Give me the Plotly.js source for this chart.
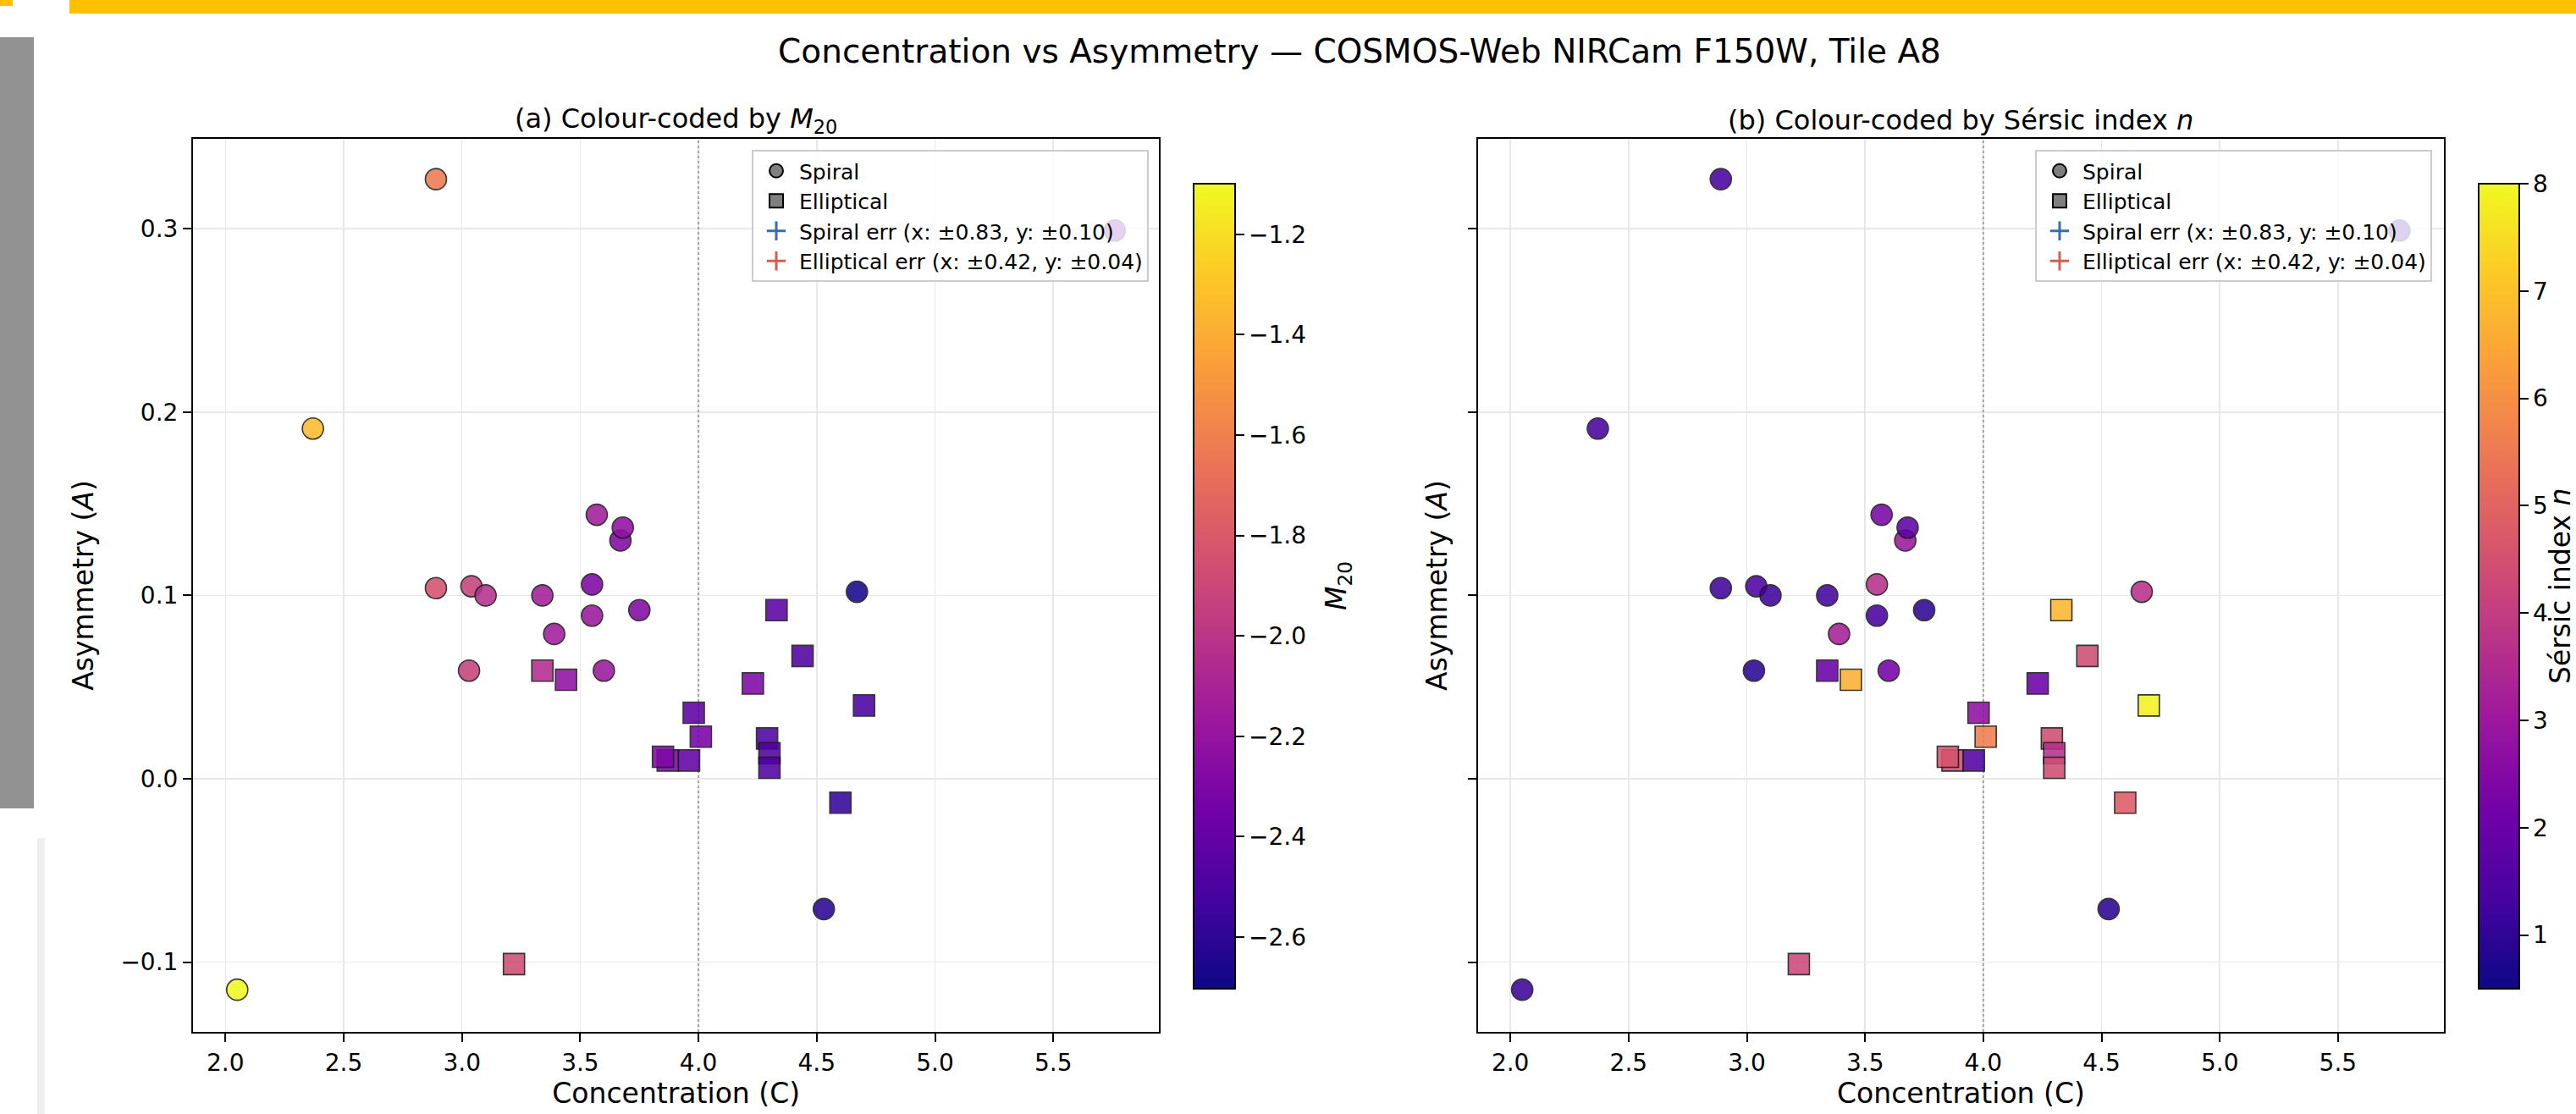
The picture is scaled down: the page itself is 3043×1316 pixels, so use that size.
<!DOCTYPE html>
<html>
<head>
<meta charset="utf-8">
<script src="https://cdn.plot.ly/plotly-3.0.1.min.js"></script>
<style>html,body{margin:0;padding:0;background:#fff;}#chart{width:3043px;height:1316px;}</style>
</head>
<body>
<div id="chart"></div>
<script>
// ---- Data ----
const spiralC = [2.89, 2.37, 5.76, 3.57, 3.67, 3.68, 2.89, 3.04, 3.10, 3.34, 3.55, 3.55, 3.75, 3.39, 4.67, 3.03, 3.60, 4.53, 2.05];
const spiralA = [0.327, 0.191, 0.299, 0.144, 0.130, 0.137, 0.104, 0.105, 0.100, 0.100, 0.106, 0.089, 0.092, 0.079, 0.102, 0.059, 0.059, -0.071, -0.115];
const spiralM20 = [-1.63, -1.34, -2.35, -2.14, -2.27, -2.22, -1.84, -1.93, -2.03, -2.13, -2.30, -2.17, -2.27, -2.14, -2.67, -1.93, -2.17, -2.61, -1.10];
const spiralN = [1.35, 1.35, 1.3, 2.3, 3.0, 1.8, 1.25, 1.5, 1.2, 1.3, 3.65, 1.4, 1.0, 3.2, 3.7, 0.9, 2.2, 0.95, 1.2];

const ellipC = [4.33, 4.44, 3.34, 3.44, 4.23, 4.70, 3.98, 4.01, 4.29, 4.30, 4.30, 3.87, 3.85, 3.96, 4.60, 3.22];
const ellipA = [0.092, 0.067, 0.059, 0.054, 0.052, 0.040, 0.036, 0.023, 0.022, 0.014, 0.006, 0.010, 0.012, 0.010, -0.013, -0.101];
const ellipM20 = [-2.43, -2.49, -2.05, -2.22, -2.29, -2.51, -2.43, -2.33, -2.49, -2.49, -2.48, -2.31, -2.29, -2.41, -2.58, -1.87];
const ellipN = [6.8, 4.4, 2.0, 6.65, 2.1, 7.85, 2.75, 5.6, 4.4, 3.65, 4.4, 4.4, 4.6, 1.55, 4.8, 4.25];

const xTicks = [2.0, 2.5, 3.0, 3.5, 4.0, 4.5, 5.0, 5.5];
const yTicks = [-0.1, 0.0, 0.1, 0.2, 0.3];
const m20Ticks = [-2.6, -2.4, -2.2, -2.0, -1.8, -1.6, -1.4, -1.2];
const nTicks = [1, 2, 3, 4, 5, 6, 7, 8];
const legendLabels = ['Spiral', 'Elliptical', 'Spiral err (x: ±0.83, y: ±0.10)', 'Elliptical err (x: ±0.42, y: ±0.04)'];
const dividerC = [4.0, 4.0];
const xRange = [1.863, 5.948];
const yRange = [-0.138, 0.349];

// plasma colour map stops
const plasmaHex = ['#0d0887', '#46039f', '#7201a8', '#9c179e', '#bd3786', '#d8576b', '#ed7953', '#fb9f3a', '#fdca26', '#f0f921'];
const plasma = plasmaHex.map((c, i) => [i / (plasmaHex.length - 1), c]);

// ---- Styles ----
const FONT = 'DejaVu Sans, Liberation Sans, sans-serif';
const mk = (sym, colorArr, ca) => ({
  symbol: sym, size: 25, color: colorArr, coloraxis: ca, opacity: 0.88,
  line: {color: '#1a1a1a', width: 1.6}
});

function dividerTrace(xa, ya) {
  return {type: 'scatter', mode: 'lines', x: dividerC, y: yRange, xaxis: xa, yaxis: ya,
          line: {color: '#a3a3a3', width: 2, dash: 'dot'}, showlegend: false, hoverinfo: 'skip'};
}
function dataTraces(xa, ya, spiralVals, ellipVals, ca) {
  return [
    dividerTrace(xa, ya),
    {type: 'scatter', mode: 'markers', x: spiralC, y: spiralA, xaxis: xa, yaxis: ya,
     marker: mk('circle', spiralVals, ca), showlegend: false, hoverinfo: 'skip'},
    {type: 'scatter', mode: 'markers', x: ellipC, y: ellipA, xaxis: xa, yaxis: ya,
     marker: mk('square', ellipVals, ca), showlegend: false, hoverinfo: 'skip'}
  ];
}
function legendTraces(xa, ya, lg) {
  return [
    {type: 'scatter', mode: 'markers', x: [null], y: [null], xaxis: xa, yaxis: ya, legend: lg, name: legendLabels[0],
     marker: {symbol: 'circle', size: 16, color: '#808080', line: {color: '#000', width: 2}}},
    {type: 'scatter', mode: 'markers', x: [null], y: [null], xaxis: xa, yaxis: ya, legend: lg, name: legendLabels[1],
     marker: {symbol: 'square', size: 16, color: '#808080', line: {color: '#000', width: 2}}},
    {type: 'scatter', mode: 'markers', x: [null], y: [null], xaxis: xa, yaxis: ya, legend: lg, name: legendLabels[2],
     marker: {symbol: 'cross-thin', size: 16, color: '#3d6bb3', line: {color: '#3d6bb3', width: 3}}},
    {type: 'scatter', mode: 'markers', x: [null], y: [null], xaxis: xa, yaxis: ya, legend: lg, name: legendLabels[3],
     marker: {symbol: 'cross-thin', size: 16, color: '#d0614f', line: {color: '#d0614f', width: 3}}}
  ];
}

const traces = [].concat(
  dataTraces('x', 'y', spiralM20, ellipM20, 'coloraxis'),
  dataTraces('x2', 'y2', spiralN, ellipN, 'coloraxis2'),
  legendTraces('x', 'y', 'legend'),
  legendTraces('x2', 'y2', 'legend2')
);

const W = 3043, H = 1316;
const ML = 228, MR = 156, MT = 164, MB = 97;
const PW = W - ML - MR, PH = H - MT - MB;
const px = x => (x - ML) / PW;
const py = y => (H - MB - y) / PH;

const axBase = {
  showline: true, mirror: true, linecolor: '#000', linewidth: 2,
  ticks: 'outside', ticklen: 10, tickwidth: 2, tickcolor: '#000',
  showgrid: true, gridcolor: '#e8e8e8', gridwidth: 1.5, zeroline: false,
  tickfont: {family: FONT, size: 28, color: '#000'}
};
const xAx = (dom, anchor) => Object.assign({}, axBase, {
  domain: dom, anchor: anchor, range: xRange, tickmode: 'array', tickvals: xTicks,
  ticktext: xTicks.map(v => v.toFixed(1)),
  title: {text: 'Concentration (C)', font: {family: FONT, size: 33, color: '#000'}, standoff: 6}
});

const lgBase = {
  bgcolor: 'rgba(255,255,255,0.8)', bordercolor: '#cccccc', borderwidth: 2,
  font: {family: FONT, size: 25, color: '#000'}, xanchor: 'right', yanchor: 'top',
  tracegroupgap: 0, itemwidth: 44
};

const cbBase = {
  thicknessmode: 'pixels', thickness: 49, lenmode: 'pixels', len: 951,
  xanchor: 'left', xpad: 0, ypad: 0, y: py(692.5), yanchor: 'middle',
  outlinewidth: 2, outlinecolor: '#000',
  ticks: 'outside', ticklen: 10, tickwidth: 2, tickcolor: '#000',
  tickfont: {family: FONT, size: 28, color: '#000'}
};

const layout = {
  width: W, height: H,
  margin: {l: ML, r: MR, t: MT, b: MB, autoexpand: false},
  paper_bgcolor: '#fff', plot_bgcolor: '#fff',
  font: {family: FONT, color: '#000'},
  title: {text: 'Concentration vs Asymmetry — COSMOS-Web NIRCam F150W, Tile A8',
          font: {family: FONT, size: 39, color: '#000'},
          x: 1606 / W, xref: 'container', xanchor: 'center', y: 1 - 60 / H, yref: 'container', yanchor: 'middle'},
  xaxis: xAx([0, px(1369.4)], 'y'),
  xaxis2: xAx([px(1745.9), 1], 'y2'),
  yaxis: Object.assign({}, axBase, {
    domain: [0, 1], anchor: 'x', range: yRange, tickmode: 'array', tickvals: yTicks,
    ticktext: yTicks.map(v => (v < 0 ? '\u2212' : '') + Math.abs(v).toFixed(1)),
    title: {text: 'Asymmetry (<i>A</i>)', font: {family: FONT, size: 33, color: '#000'}, standoff: 22}
  }),
  yaxis2: Object.assign({}, axBase, {
    domain: [0, 1], anchor: 'x2', range: yRange, matches: 'y', tickmode: 'array', tickvals: yTicks,
    showticklabels: false,
    title: {text: 'Asymmetry (<i>A</i>)', font: {family: FONT, size: 33, color: '#000'}, standoff: 14}
  }),
  coloraxis: {
    colorscale: plasma, cmin: -2.703, cmax: -1.099,
    colorbar: Object.assign({}, cbBase, {
      x: px(1410), tickmode: 'array', tickvals: m20Ticks,
      ticktext: m20Ticks.map(v => '\u2212' + Math.abs(v).toFixed(1))
    })
  },
  coloraxis2: {
    colorscale: plasma, cmin: 0.5, cmax: 8,
    colorbar: Object.assign({}, cbBase, {
      x: px(2928), thickness: 48, tickmode: 'array', tickvals: nTicks
    })
  },
  legend: Object.assign({}, lgBase, {x: px(1357), y: py(177)}),
  legend2: Object.assign({}, lgBase, {x: px(2873), y: py(177)}),
  annotations: [
    {text: '(a) Colour-coded by <i>M</i><sub>20</sub>', xref: 'paper', yref: 'paper',
     x: (px(228.3) + px(1369.4)) / 2, y: py(142), xanchor: 'center', yanchor: 'middle', showarrow: false,
     font: {family: FONT, size: 32, color: '#000'}},
    {text: '(b) Colour-coded by Sérsic index <i>n</i>', xref: 'paper', yref: 'paper',
     x: (px(1745.9) + 1) / 2, y: py(142), xanchor: 'center', yanchor: 'middle', showarrow: false,
     font: {family: FONT, size: 32, color: '#000'}},
    {text: '<i>M</i><sub>20</sub>', xref: 'paper', yref: 'paper', textangle: -90,
     x: px(1580), y: py(692), xanchor: 'center', yanchor: 'middle', showarrow: false,
     font: {family: FONT, size: 33, color: '#000'}},
    {text: 'Sérsic index <i>n</i>', xref: 'paper', yref: 'paper', textangle: -90,
     x: px(3024), y: py(692), xanchor: 'center', yanchor: 'middle', showarrow: false,
     font: {family: FONT, size: 33, color: '#000'}}
  ],
  shapes: [
    {type: 'rect', xref: 'paper', yref: 'paper', x0: px(82), x1: px(3050), y0: py(16), y1: py(-10),
     fillcolor: '#ffc000', line: {width: 0}, layer: 'above'},
    {type: 'rect', xref: 'paper', yref: 'paper', x0: px(-5), x1: px(15), y0: py(7), y1: py(-10),
     fillcolor: '#ffc000', line: {width: 0}, layer: 'above'},
    {type: 'rect', xref: 'paper', yref: 'paper', x0: px(-5), x1: px(40), y0: py(955), y1: py(44),
     fillcolor: '#929292', line: {width: 0}, layer: 'above'},
    {type: 'rect', xref: 'paper', yref: 'paper', x0: px(44), x1: px(53), y0: py(1330), y1: py(990),
     fillcolor: '#efefef', line: {width: 0}, layer: 'above'}
  ]
};

Plotly.newPlot('chart', traces, layout, {displayModeBar: false, staticPlot: true});
</script>
</body>
</html>
